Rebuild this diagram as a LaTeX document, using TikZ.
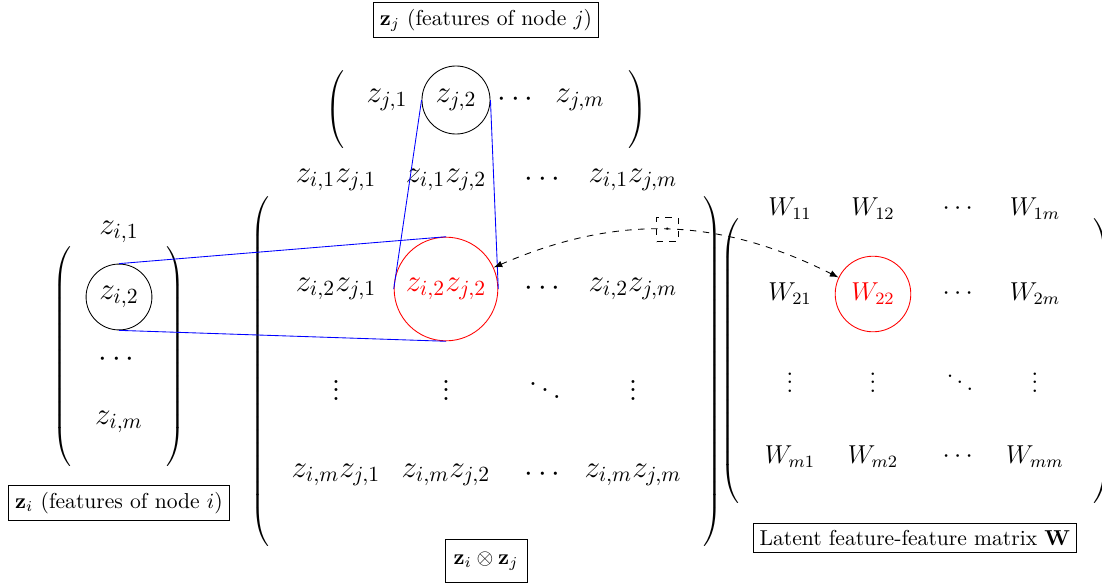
\documentclass[tikz,border=0pt]{standalone}
\usepackage{amsmath}
\newcommand\openpar[1]{$\left(\vrule height #1 depth #1 width 0pt\right.$}
\newcommand\closepar[1]{$\left.\vrule height #1 depth #1 width 0pt\right)$}
\begin{document}
\begin{tikzpicture}[
  x=0.463pt, y=-0.463pt,
  entry/.style={font=\Large, inner sep=1pt},
  went/.style={font=\large, inner sep=1pt},
  ring/.style={circle, draw, thin, inner sep=0pt},
  hot/.style={ring, draw=red, text=red},
  lab/.style={draw, font=\normalsize, inner sep=3pt},
  delim/.style={inner sep=0pt},
  link/.style={draw=blue, thin},
  swap/.style={<->, >=latex, dashed}]
  \useasboundingbox (0,0) rectangle (1102,583);
  % vector z_j
  \node[lab] (ljbox) at (486,20) {$\mathbf{z}_j$ (features of node $j$)};
  \node[delim] (jl) at (336,110) {\openpar{15.5pt}};
  \node[entry] (zj1) at (387,100) {$z_{j,1}$};
  \node[entry, ring, minimum size=31.5pt] (zj2) at (456,100) {$z_{j,2}$};
  \node[entry] (zjd) at (518,100) {$\cdots$};
  \node[entry] (zjm) at (580,100) {$z_{j,m}$};
  \node[delim] (jr) at (637,110) {\closepar{15.5pt}};
  % vector z_i
  \node[entry] (zi1) at (119,232) {$z_{i,1}$};
  \node[delim] (il) at (63,359) {\openpar{50.5pt}};
  \node[entry, ring, minimum size=30.5pt] (zi2) at (119,297) {$z_{i,2}$};
  \node[entry] (zid) at (119,360) {$\cdots$};
  \node[entry] (zim) at (119,422) {$z_{i,m}$};
  \node[delim] (ir) at (175,359) {\closepar{50.5pt}};
  \node[lab] (libox) at (119,503) {$\mathbf{z}_i$ (features of node $i$)};
  % outer product
  \node[delim] (ml) at (261,373.5) {\openpar{80pt}};
  \node[entry] (m11) at (336,180) {$z_{i,1}z_{j,1}$};
  \node[entry] (m12) at (446,180) {$z_{i,1}z_{j,2}$};
  \node[entry] (m13) at (545,180) {$\cdots$};
  \node[entry] (m14) at (633,180) {$z_{i,1}z_{j,m}$};
  \node[entry] (m21) at (336,289) {$z_{i,2}z_{j,1}$};
  \node[entry, hot, minimum size=48pt] (m22) at (446,289) {$z_{i,2}z_{j,2}$};
  \node[entry] (m23) at (545,289) {$\cdots$};
  \node[entry] (m24) at (633,289) {$z_{i,2}z_{j,m}$};
  \node[entry] (m31) at (336,384) {$\vdots$};
  \node[entry] (m32) at (446,384) {$\vdots$};
  \node[entry] (m33) at (545,384) {$\ddots$};
  \node[entry] (m34) at (633,384) {$\vdots$};
  \node[entry] (m41) at (336,475) {$z_{i,m}z_{j,1}$};
  \node[entry] (m42) at (446,475) {$z_{i,m}z_{j,2}$};
  \node[entry] (m43) at (545,475) {$\cdots$};
  \node[entry] (m44) at (633,475) {$z_{i,m}z_{j,m}$};
  \node[delim] (mr) at (712,373.5) {\closepar{80pt}};
  \node[lab, inner xsep=4pt, inner ysep=5.5pt] (lmbox) at (486,561) {$\mathbf{z}_i \otimes \mathbf{z}_j$};
  % matrix W
  \node[delim] (wl) at (731,362.5) {\openpar{64.5pt}};
  \node[went] (w11) at (790,209) {$W_{11}$};
  \node[went] (w12) at (873,209) {$W_{12}$};
  \node[went] (w13) at (960,209) {$\cdots$};
  \node[went] (w14) at (1035,209) {$W_{1m}$};
  \node[went] (w21) at (790,294) {$W_{21}$};
  \node[went, hot, minimum size=35pt] (w22) at (873,294) {$W_{22}$};
  \node[went] (w23) at (960,294) {$\cdots$};
  \node[went] (w24) at (1035,294) {$W_{2m}$};
  \node[went] (w31) at (790,376) {$\vdots$};
  \node[went] (w32) at (873,376) {$\vdots$};
  \node[went] (w33) at (960,376) {$\ddots$};
  \node[went] (w34) at (1035,376) {$\vdots$};
  \node[went] (w41) at (790,457) {$W_{m1}$};
  \node[went] (w42) at (873,457) {$W_{m2}$};
  \node[went] (w43) at (960,457) {$\cdots$};
  \node[went] (w44) at (1035,457) {$W_{mm}$};
  \node[delim] (wr) at (1102,362.5) {\closepar{64.5pt}};
  \node[lab] (lwbox) at (915,538) {Latent feature-feature matrix $\mathbf{W}$};
  % links
  \draw[link] (zj2.west) -- (m22.west);
  \draw[link] (zj2.east) -- (m22.east);
  \draw[link] (zi2.north) -- (m22.north);
  \draw[link] (zi2.south) -- (m22.south);
  \draw[swap] (m22) to[bend left=25] node[draw, minimum width=10pt, minimum height=11pt, inner sep=0pt] (dotbox) {$\cdot$} (w22);
\end{tikzpicture}
\end{document}
